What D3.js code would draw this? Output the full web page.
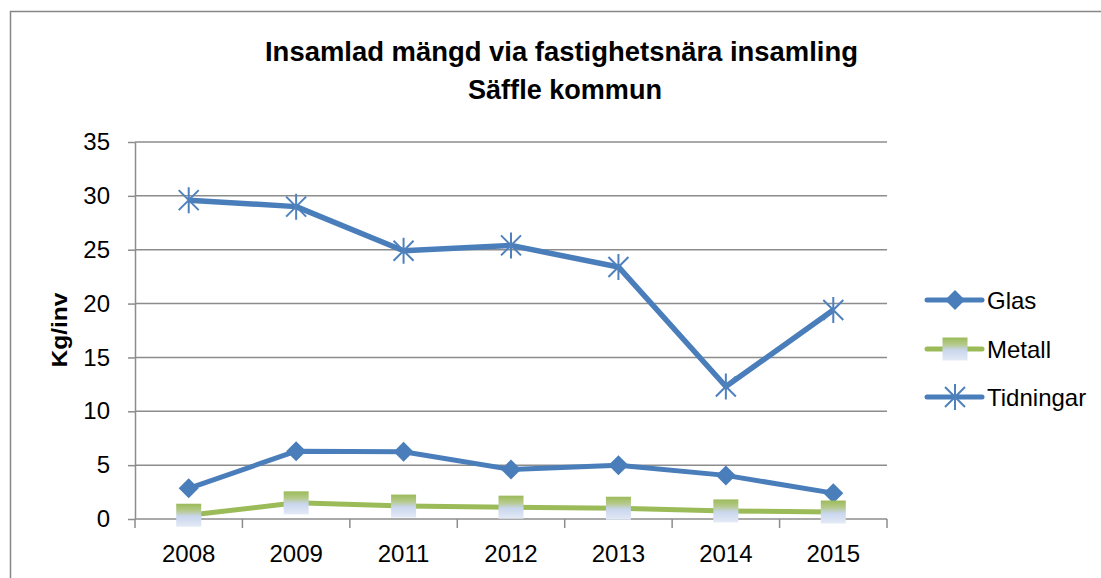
<!DOCTYPE html>
<html>
<head>
<meta charset="utf-8">
<script src="https://cdn.jsdelivr.net/npm/d3@7"></script>
<style>
  body { margin: 0; background: #fff; }
  svg { display: block; }
  text { font-family: "Liberation Sans", Arial, sans-serif; }
</style>
</head>
<body>
<div id="chart"></div>
<script>
// Data
const years = ['2008', '2009', '2011', '2012', '2013', '2014', '2015'];
const glas = [2.85, 6.3, 6.25, 4.6, 5.0, 4.05, 2.4];
const metall = [0.35, 1.5, 1.2, 1.1, 1.0, 0.75, 0.65];
const tidningar = [29.6, 29.0, 24.9, 25.4, 23.4, 12.3, 19.4];
const yTicks = [0, 5, 10, 15, 20, 25, 30, 35];
const seriesNames = ['Glas', 'Metall', 'Tidningar'];

const W = 1101, H = 578;
const plot = { left: 135, right: 887, top: 142, bottom: 519 };

const svg = d3.select('#chart').append('svg')
    .attr('width', W)
    .attr('height', H);

// gradient for the Metall markers
const defs = svg.append('defs');
const grad = defs.append('linearGradient')
    .attr('id', 'metallGrad')
    .attr('x1', 0).attr('y1', 0).attr('x2', 0).attr('y2', 1);
grad.append('stop').attr('offset', '0%').attr('stop-color', '#9bbb59');
grad.append('stop').attr('offset', '30%').attr('stop-color', '#b5c98a');
grad.append('stop').attr('offset', '55%').attr('stop-color', '#c9d6ee');
grad.append('stop').attr('offset', '100%').attr('stop-color', '#e4eaf6');

// outer frame (continues past the right and bottom edge)
svg.append('rect')
    .attr('x', 10.5).attr('y', 11.5)
    .attr('width', W + 20).attr('height', H + 20)
    .attr('fill', 'none')
    .attr('stroke', '#868686')
    .attr('stroke-width', 1.5);

// Title (narrow bold face in the original, so squeeze to its width)
const title = svg.append('g')
    .attr('font-weight', 'bold')
    .attr('font-size', '28px')
    .attr('fill', '#000');
title.append('text')
    .attr('x', 265).attr('y', 61)
    .attr('textLength', 593)
    .attr('lengthAdjust', 'spacingAndGlyphs')
    .text('Insamlad mängd via fastighetsnära insamling');
title.append('text')
    .attr('x', 468).attr('y', 99)
    .attr('textLength', 194)
    .attr('lengthAdjust', 'spacingAndGlyphs')
    .text('Säffle kommun');

// Scales
const x = d3.scaleBand()
    .domain(years)
    .range([plot.left, plot.right])
    .padding(0);

const y = d3.scaleLinear()
    .domain([0, 35])
    .range([plot.bottom, plot.top]);

const cx = d => x(d) + x.bandwidth() / 2;

// Gridlines
svg.append('g')
    .selectAll('line')
    .data(yTicks.filter(d => d > 0))
    .enter()
    .append('line')
    .attr('x1', plot.left)
    .attr('x2', plot.right)
    .attr('y1', d => y(d))
    .attr('y2', d => y(d))
    .attr('stroke', '#8c8c8c')
    .attr('stroke-width', 1.5);

// Y axis
const yAxis = svg.append('g')
    .attr('transform', `translate(${plot.left},0)`)
    .call(d3.axisLeft(y).tickValues(yTicks).tickSize(7).tickPadding(18).tickSizeOuter(0));
yAxis.select('.domain').attr('stroke', '#8c8c8c').attr('stroke-width', 1.5);
yAxis.selectAll('.tick line').attr('stroke', '#8c8c8c').attr('stroke-width', 1.5);
yAxis.selectAll('.tick text')
    .attr('font-family', '"Liberation Sans", sans-serif')
    .attr('font-size', '24px')
    .attr('fill', '#000');

// X axis: labels centred in the bands, ticks on band edges
const xAxis = svg.append('g')
    .attr('transform', `translate(0,${plot.bottom})`)
    .call(d3.axisBottom(x).tickSize(0).tickPadding(26).tickSizeOuter(0));
xAxis.select('.domain').remove();
xAxis.selectAll('.tick text')
    .attr('font-family', '"Liberation Sans", sans-serif')
    .attr('font-size', '24px')
    .attr('fill', '#000');

svg.append('line')
    .attr('x1', plot.left).attr('x2', plot.right)
    .attr('y1', plot.bottom).attr('y2', plot.bottom)
    .attr('stroke', '#8c8c8c').attr('stroke-width', 1.5);

svg.append('g')
    .selectAll('line')
    .data(years.concat(['end']))
    .enter()
    .append('line')
    .attr('x1', (d, i) => plot.left + i * x.bandwidth())
    .attr('x2', (d, i) => plot.left + i * x.bandwidth())
    .attr('y1', plot.bottom)
    .attr('y2', plot.bottom + 9)
    .attr('stroke', '#8c8c8c')
    .attr('stroke-width', 1.5);

// Y axis title
svg.append('text')
    .attr('transform', `translate(67,330) rotate(-90)`)
    .attr('text-anchor', 'middle')
    .attr('font-weight', 'bold')
    .attr('font-size', '22px')
    .attr('textLength', 75)
    .attr('lengthAdjust', 'spacingAndGlyphs')
    .attr('fill', '#000')
    .text('Kg/inv');

// Lines
const line = d3.line()
    .x((d, i) => cx(years[i]))
    .y(d => y(d));

const blue = '#4a7ebb';
const green = '#9bbb59';

svg.append('path').datum(glas)
    .attr('d', line).attr('fill', 'none')
    .attr('stroke', blue).attr('stroke-width', 5).attr('stroke-linejoin', 'round');
svg.append('path').datum(metall)
    .attr('d', line).attr('fill', 'none')
    .attr('stroke', green).attr('stroke-width', 5).attr('stroke-linejoin', 'round');
svg.append('path').datum(tidningar)
    .attr('d', line).attr('fill', 'none')
    .attr('stroke', blue).attr('stroke-width', 5.5).attr('stroke-linejoin', 'round');

// Markers
function diamond(g, px, py) {
    g.append('path')
        .attr('d', `M${px},${py - 10}L${px + 10},${py}L${px},${py + 10}L${px - 10},${py}Z`)
        .attr('fill', blue);
}
function square(g, px, py) {
    g.append('rect')
        .attr('x', px - 12.5).attr('y', py - 11.5)
        .attr('width', 25).attr('height', 23)
        .attr('fill', 'url(#metallGrad)');
}
function star(g, px, py) {
    const r = 10;
    g.append('path')
        .attr('d', `M${px - r},${py - r}L${px + r},${py + r}M${px - r},${py + r}L${px + r},${py - r}M${px},${py - r - 3}L${px},${py + r + 3}`)
        .attr('stroke', '#4f81bd')
        .attr('stroke-width', 2)
        .attr('fill', 'none');
}

const markers = svg.append('g');
glas.forEach((v, i) => diamond(markers, cx(years[i]), y(v)));
metall.forEach((v, i) => square(markers, cx(years[i]), y(v)));
tidningar.forEach((v, i) => star(markers, cx(years[i]), y(v)));

// Legend
const legendY = [300, 349, 397];
const legend = svg.append('g');
seriesNames.forEach((name, i) => {
    const ly = legendY[i];
    legend.append('line')
        .attr('x1', 927).attr('x2', 982)
        .attr('y1', ly).attr('y2', ly)
        .attr('stroke', i === 1 ? green : blue)
        .attr('stroke-width', 5)
        .attr('stroke-linecap', 'round');
    if (i === 0) diamond(legend, 955, ly);
    if (i === 1) square(legend, 955, ly);
    if (i === 2) star(legend, 955, ly);
    legend.append('text')
        .attr('x', 987)
        .attr('y', ly + 9)
        .attr('font-size', '24px')
        .attr('fill', '#000')
        .text(name);
});
</script>
</body>
</html>
